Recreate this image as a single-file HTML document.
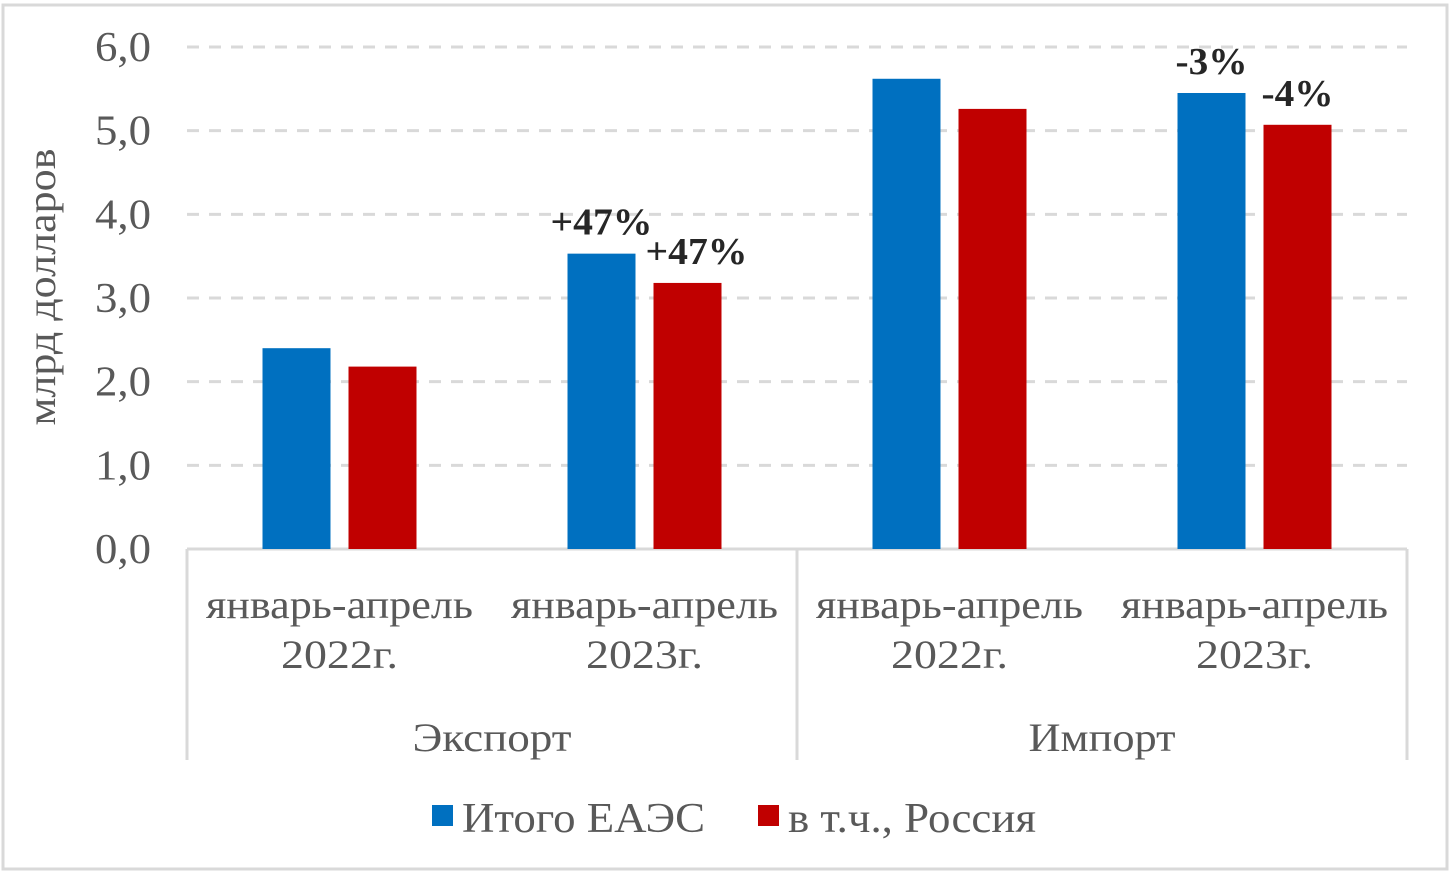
<!DOCTYPE html>
<html><head><meta charset="utf-8"><style>
body{margin:0;background:#fff;}
svg text{font-family:"Liberation Serif",serif;}
</style></head><body>
<svg id="chart" width="1451" height="872" xmlns="http://www.w3.org/2000/svg">
<rect x="3" y="5" width="1444" height="864" fill="#fff" stroke="#d9d9d9" stroke-width="3"/>
<g id="grid"></g><g id="bars"></g><g id="labels"></g>
<text x="0" y="0" transform="translate(55,287) rotate(-90)" text-anchor="middle" font-size="40" textLength="277" lengthAdjust="spacingAndGlyphs" fill="#595959">млрд долларов</text>
<rect x="432" y="805" width="21" height="21" fill="#0070c0"/>
<text x="462" y="832" font-size="42" textLength="243" lengthAdjust="spacingAndGlyphs" fill="#595959">Итого ЕАЭС</text>
<rect x="758" y="805" width="21" height="21" fill="#c00000"/>
<text x="788" y="832" font-size="42" textLength="248" lengthAdjust="spacingAndGlyphs" fill="#595959">в т.ч., Россия</text>
</svg>
<script>
const categories=["январь-апрель|2022г.","январь-апрель|2023г.","январь-апрель|2022г.","январь-апрель|2023г."];
const groups=["Экспорт","Импорт"];
const eaesValues=[2.40,3.53,5.62,5.45];
const russiaValues=[2.18,3.18,5.26,5.07];
const eaesLabels=["","+47%","","-3%"];
const russiaLabels=["","+47%","","-4%"];
const yTicks=[0,1,2,3,4,5,6];
const yTickLabels=["0,0","1,0","2,0","3,0","4,0","5,0","6,0"];
const NS="http://www.w3.org/2000/svg";
const x0=187,x1=1407,y0=549,pxPer=83.67;
const catW=(x1-x0)/categories.length;
function yS(v){return y0-v*pxPer;}
function xC(i){return x0+catW*(i+0.5);}
function mk(tag,attrs,parent,txt){const e=document.createElementNS(NS,tag);for(const k in attrs)e.setAttribute(k,attrs[k]);if(txt!==undefined)e.textContent=txt;document.getElementById(parent).appendChild(e);return e;}
yTicks.forEach((t,i)=>{
  if(t>0){const l=mk('line',{x1:x0,x2:x1,y1:yS(t),y2:yS(t),stroke:'#d9d9d9','stroke-width':3,'stroke-dasharray':'12 10'},'grid');
  
  }
  const tx=mk('text',{x:151,y:yS(t)+14,'text-anchor':'end','font-size':42,textLength:56,lengthAdjust:'spacingAndGlyphs',fill:'#595959'},'labels',yTickLabels[i]);
  
  
});
const ax=mk('line',{x1:x0,x2:x1,y1:y0,y2:y0,stroke:'#d9d9d9','stroke-width':3},'grid');


[x0,(x0+x1)/2,x1].forEach(x=>{
  const v=mk('line',{x1:x,x2:x,y1:y0,y2:760,stroke:'#d9d9d9','stroke-width':3},'grid');
  
  
});
const bw=68,off=43;
categories.forEach((c,i)=>{
  const cx=xC(i);
  const b=mk('rect',{x:cx-off-bw/2,y:yS(eaesValues[i]),width:bw,height:eaesValues[i]*pxPer,fill:'#0070c0'},'bars');
  
  
  const r=mk('rect',{x:cx+off-bw/2,y:yS(russiaValues[i]),width:bw,height:russiaValues[i]*pxPer,fill:'#c00000'},'bars');
  
  
  if(eaesLabels[i]){const t=mk('text',{x:cx-off,y:yS(eaesValues[i])-19,'text-anchor':'middle','font-size':38,textLength:eaesLabels[i].length>3?102:72,lengthAdjust:'spacingAndGlyphs','font-weight':'bold',fill:'#262626'},'labels',eaesLabels[i]);
  
  }
  if(russiaLabels[i]){const t=mk('text',{x:cx+off+(russiaLabels[i].length>3?9:0),y:yS(russiaValues[i])-19,'text-anchor':'middle','font-size':38,textLength:russiaLabels[i].length>3?102:72,lengthAdjust:'spacingAndGlyphs','font-weight':'bold',fill:'#262626'},'labels',russiaLabels[i]);
  
  }
  const p=c.split('|');
  const a=mk('text',{x:cx,y:618,'text-anchor':'middle','font-size':40,textLength:267,lengthAdjust:'spacingAndGlyphs',fill:'#595959'},'labels',p[0]);
  
  
  const b2=mk('text',{x:cx,y:668,'text-anchor':'middle','font-size':40,textLength:117,lengthAdjust:'spacingAndGlyphs',fill:'#595959'},'labels',p[1]);
  
  
});
groups.forEach((g,i)=>{
  const gx=x0+(x1-x0)/groups.length*(i+0.5);
  const t=mk('text',{x:gx,y:751,'text-anchor':'middle','font-size':40,textLength:i==0?159:147,lengthAdjust:'spacingAndGlyphs',fill:'#595959'},'labels',g);
  
  
});
</script>
</body></html>
